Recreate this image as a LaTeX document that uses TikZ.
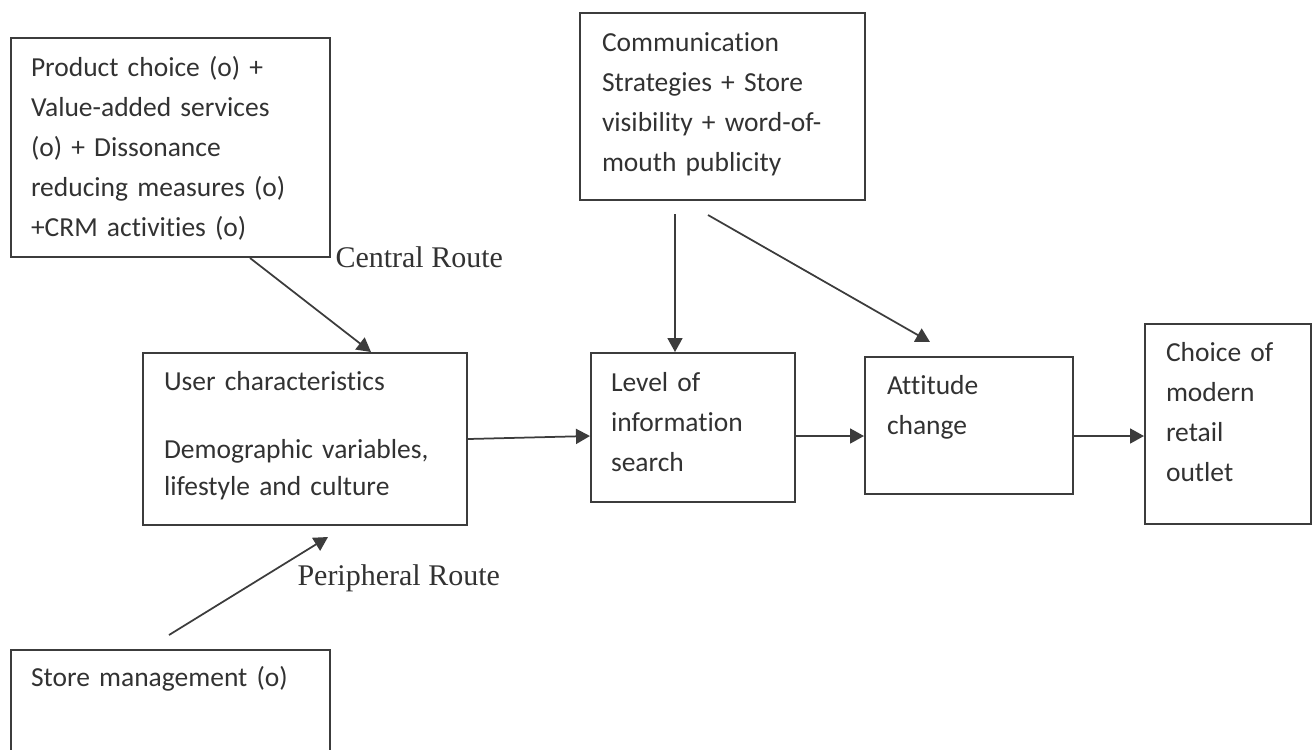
\documentclass[tikz,border=0pt]{standalone}
\usepackage{fontspec}
\usetikzlibrary{arrows.meta}
\newfontfamily\carlito[Ligatures=NoCommon]{Carlito}
\newfontfamily\tnr{Liberation Serif}
\definecolor{linegray}{RGB}{60,60,60}
\definecolor{textgray}{RGB}{50,50,50}

\begin{document}
\begin{tikzpicture}[x=0.4pt,y=-0.4pt,
	block/.style={draw=linegray, line width=0.8pt, anchor=north west, align=left, inner ysep=0pt, inner xsep=8pt, text=textgray, font=\carlito\fontsize{11pt}{16pt}\selectfont},
	route/.style={anchor=base west, inner sep=0pt, text=textgray, font=\tnr\fontsize{12pt}{14pt}\selectfont},
	link/.style={draw=linegray, line width=0.7pt, -{Triangle[length=5.6pt,width=6pt]}}]
	\useasboundingbox (0,0) rectangle (1315,749);
	\clip (0,0) rectangle (1315,749);
	\node[block, text width=111.6pt, text height=15.2pt, text depth=72.4pt] (prod) at (10,37) {Product choice (o) +\\Value-added services\\(o) + Dissonance\\reducing measures (o)\\+CRM activities (o)};
	\node[block, inner xsep=8.8pt, text width=96.4pt, text height=15.2pt, text depth=59.6pt] (comm) at (579,12) {Communication\\Strategies + Store\\visibility + word-of-\\mouth publicity};
	\node[block, inner xsep=8.4pt, text width=112.8pt, text height=14.8pt, text depth=54pt, font=\carlito\fontsize{11pt}{14.8pt}\selectfont] (user) at (142,352) {User characteristics\\[12.4pt]Demographic variables,\\lifestyle and culture};
	\node[block, text width=65.6pt, text height=15.2pt, text depth=44.4pt] (level) at (590,352) {Level of\\information\\search};
	\node[block, inner xsep=8.8pt, text width=65.6pt, text height=14.8pt, text depth=40pt] (attitude) at (864,356) {Attitude\\change};
	\node[block, inner xsep=8.4pt, text width=49.6pt, text height=14.8pt, text depth=65.2pt] (choice) at (1144,323) {Choice of\\modern\\retail\\outlet};
	\node[block, text width=111.6pt, text height=14.4pt, text depth=41.6pt] (store) at (10,649) {Store management (o)};
	\node[route] (central) at (335,267) {Central Route};
	\node[route] (peripheral) at (297,585) {Peripheral Route};
	\coordinate (axis) at (0,436);
	\draw[link] ([xshift=96pt]prod.south west) -- ([xshift=91.6pt]user.north west);
	\draw[link] ([shift={(159,-14)}]store.north west) -- ([shift={(186,11)}]user.south west);
	\draw[link] ([shift={(96,13)}]comm.south west) -- ([xshift=34pt]level.north west);
	\draw[link] ([shift={(129,14)}]comm.south west) -- ([shift={(66,-14)}]attitude.north west);
	\draw[link] (user.east) -- (level.west |- axis);
	\draw[link] (level.east |- axis) -- (attitude.west |- axis);
	\draw[link] (attitude.east |- axis) -- (choice.west |- axis);
\end{tikzpicture}
\end{document}
